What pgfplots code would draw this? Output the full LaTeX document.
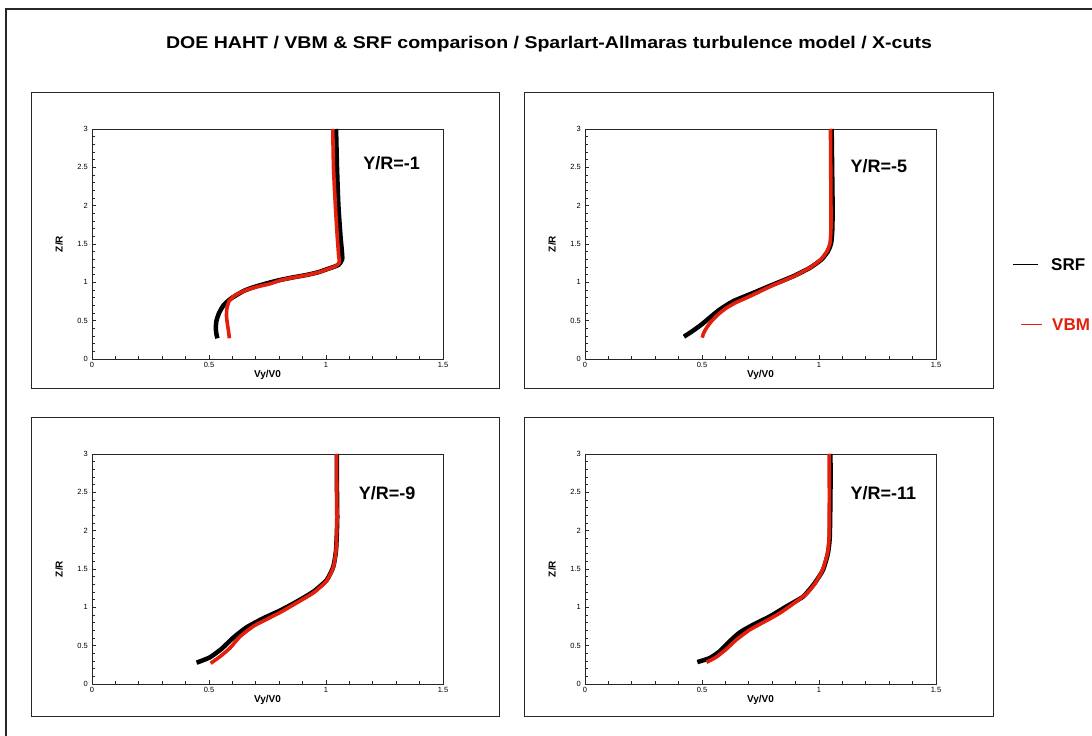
\documentclass[border=0pt]{standalone}
\usepackage{pgfplots}
\pgfplotsset{compat=1.18}
\usepackage{fontspec}
\setmainfont{Liberation Sans}
\definecolor{vbmred}{RGB}{228,32,12}

% SRF and VBM profiles: columns are Vy/V0 and Z/R
\pgfplotstableread{
x z
0.536 0.27
0.532 0.32
0.529 0.40
0.532 0.50
0.543 0.60
0.562 0.70
0.590 0.78
0.618 0.835
0.650 0.89
0.689 0.935
0.745 0.985
0.803 1.03
0.860 1.065
0.917 1.096
0.965 1.13
1.003 1.17
1.053 1.226
1.069 1.30
1.068 1.40
1.062 1.60
1.053 2.00
1.047 2.50
1.043 3.00
}\srfA
\pgfplotstableread{
x z
0.587 0.27
0.584 0.35
0.579 0.45
0.575 0.55
0.576 0.65
0.585 0.75
0.604 0.813
0.630 0.86
0.665 0.905
0.710 0.945
0.760 0.98
0.810 1.03
0.865 1.065
0.920 1.096
0.968 1.13
1.005 1.17
1.040 1.21
1.057 1.26
1.054 1.35
1.048 1.60
1.040 2.00
1.032 2.50
1.029 3.00
}\vbmA
\pgfplotstableread{
x z
0.423 0.291
0.462 0.37
0.501 0.457
0.540 0.557
0.575 0.643
0.632 0.752
0.718 0.861
0.803 0.970
0.889 1.078
0.960 1.187
1.010 1.296
1.038 1.404
1.052 1.513
1.057 1.70
1.058 2.00
1.056 2.50
1.054 3.00
}\srfB
\pgfplotstableread{
x z
0.501 0.278
0.507 0.339
0.519 0.404
0.540 0.491
0.568 0.578
0.604 0.665
0.647 0.739
0.704 0.817
0.756 0.893
0.806 0.965
0.889 1.074
0.958 1.185
1.007 1.296
1.034 1.404
1.047 1.513
1.051 1.70
1.051 2.00
1.050 2.50
1.049 3.00
}\vbmB
\pgfplotstableread{
x z
0.447 0.278
0.504 0.348
0.556 0.465
0.604 0.605
0.661 0.740
0.732 0.857
0.803 0.957
0.875 1.074
0.946 1.204
1.003 1.357
1.031 1.53
1.043 1.75
1.048 2.14
1.047 2.50
1.046 3.00
}\srfC
\pgfplotstableread{
x z
0.507 0.27
0.547 0.357
0.590 0.470
0.632 0.617
0.689 0.752
0.746 0.843
0.808 0.940
0.878 1.064
0.949 1.195
1.004 1.350
1.032 1.53
1.043 1.75
1.047 2.14
1.046 2.50
1.045 3.00
}\vbmC
\pgfplotstableread{
x z
0.480 0.286
0.533 0.338
0.575 0.425
0.618 0.555
0.661 0.672
0.718 0.772
0.789 0.880
0.860 1.010
0.932 1.140
0.981 1.314
1.017 1.487
1.038 1.704
1.046 1.92
1.049 2.50
1.049 3.00
}\srfD
\pgfplotstableread{
x z
0.519 0.282
0.561 0.351
0.604 0.455
0.647 0.577
0.704 0.707
0.761 0.802
0.832 0.924
0.903 1.075
0.951 1.190
0.985 1.320
1.015 1.487
1.036 1.704
1.043 1.92
1.044 2.50
1.043 3.00
}\vbmD

\pgfplotsset{
  cutpanel/.style={
    scale only axis, width=351bp, height=230bp,
    xmin=0, xmax=1.5, ymin=0, ymax=3,
    xtick={0,0.5,1,1.5}, ytick={0,0.5,1,1.5,2,2.5,3},
    minor x tick num=4, minor y tick num=4,
    tick align=inside, xtick pos=bottom, ytick pos=left,
    major tick length=4bp, minor tick length=2.5bp,
    axis line style={line width=0.9bp, black!85},
    every tick/.style={black!85, line width=0.7bp},
    /pgf/number format/assume math mode=true,
    tick label style={font=\fontsize{7.5bp}{8bp}\selectfont, inner sep=1bp},
    xticklabel style={anchor=north, yshift=-2bp},
    yticklabel style={anchor=east, xshift=-3bp},
    xlabel={Vy/V0}, ylabel={Z/R},
    label style={font=\bfseries\fontsize{10bp}{11bp}\selectfont},
    xlabel style={at={(axis description cs:0.5,-0.07)}, anchor=center},
    ylabel style={at={(axis description cs:-0.094,0.5)}, anchor=center},
    clip=false,
  },
  srf/.style={black, line width=4.5bp, line join=round, smooth, tension=0.35},
  vbm/.style={vbmred, line width=3.6bp, line join=round, smooth, tension=0.35},
}
\tikzset{cutname/.style={anchor=west, font=\bfseries\fontsize{18bp}{20bp}\selectfont}}

\begin{document}
\begin{tikzpicture}[x=1bp, y=1bp]
\path[use as bounding box] (0,0) rectangle (1092,736);

% outer frame (top and left edges)
\draw[line width=1.2bp, black!85] (6,0) -- (6,727) -- (1092,727);

% title
\node[font=\bfseries\fontsize{17bp}{19bp}\selectfont, xscale=1.15] at (549,692)
  {DOE HAHT / VBM \& SRF comparison / Sparlart-Allmaras turbulence model / X-cuts};

% panel frames
\draw[line width=1bp, black!85] (31,347) rectangle (499,643);
\draw[line width=1bp, black!85] (524,347) rectangle (993,643);
\draw[line width=1bp, black!85] (31,19) rectangle (499,318);
\draw[line width=1bp, black!85] (524,19) rectangle (993,318);

\begin{axis}[cutpanel, at={(92bp,377bp)}, anchor=south west]
  \addplot[srf] table[x=x, y=z] {\srfA};
  \addplot[vbm] table[x=x, y=z] {\vbmA};
  \node[cutname] at (axis cs:1.145,2.56) {Y/R=-1};
\end{axis}

\begin{axis}[cutpanel, at={(585bp,377bp)}, anchor=south west]
  \addplot[srf] table[x=x, y=z] {\srfB};
  \addplot[vbm] table[x=x, y=z] {\vbmB};
  \node[cutname] at (axis cs:1.12,2.51) {Y/R=-5};
\end{axis}

\begin{axis}[cutpanel, at={(92bp,52bp)}, anchor=south west]
  \addplot[srf] table[x=x, y=z] {\srfC};
  \addplot[vbm] table[x=x, y=z] {\vbmC};
  \node[cutname] at (axis cs:1.125,2.49) {Y/R=-9};
\end{axis}

\begin{axis}[cutpanel, at={(585bp,52bp)}, anchor=south west]
  \addplot[srf] table[x=x, y=z] {\srfD};
  \addplot[vbm] table[x=x, y=z] {\vbmD};
  \node[cutname] at (axis cs:1.12,2.49) {Y/R=-11};
\end{axis}

% legend
\draw[black, line width=1bp] (1013,471) -- (1038,471);
\node[anchor=west, inner sep=0pt, font=\bfseries\fontsize{17bp}{19bp}\selectfont] at (1051,471) {SRF};
\draw[vbmred, line width=1bp] (1021,411) -- (1042,411);
\node[anchor=west, inner sep=0pt, text=vbmred, font=\bfseries\fontsize{17bp}{19bp}\selectfont] at (1052,411) {VBM};
\end{tikzpicture}
\end{document}
